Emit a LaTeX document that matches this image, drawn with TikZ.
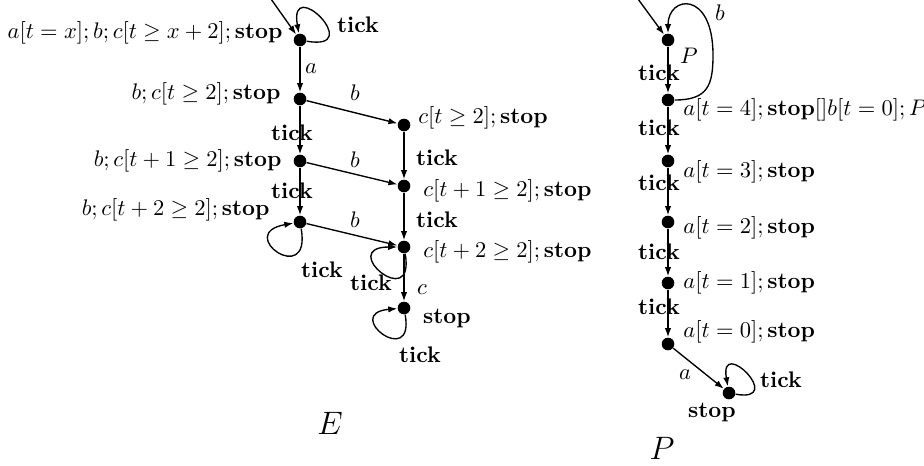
\documentclass[tikz,border=0pt]{standalone}
\usetikzlibrary{arrows.meta}
\begin{document}
\begin{tikzpicture}[x=0.444pt,y=-0.444pt,
  st/.style={circle,fill=black,inner sep=0pt,minimum size=5.6pt},
  lbl/.style={inner sep=0pt},
  arr/.style={-{Latex[length=4pt,width=2.8pt]},line width=0.6pt}]
\useasboundingbox (0,0) rectangle (924,465);
% ---------- E ----------
\node[st] (s0) at (300,40) {};
\node[st] (s1) at (300,99) {};
\node[st] (s2) at (404,125) {};
\node[st] (s3) at (300,161) {};
\node[st] (s4) at (404,186) {};
\node[st] (s5) at (300,222) {};
\node[st] (s6) at (404,247) {};
\node[st] (s7) at (404,308) {};
\coordinate (i0) at (271,-1);
\draw[arr] (i0) -- (s0);
\draw[arr] (s0) to[out=-10,in=100,distance=27pt] (s0);
\draw[arr] (s0) -- (s1);
\draw[arr] (s1) -- (s2);
\draw[arr] (s1) -- (s3);
\draw[arr] (s2) -- (s4);
\draw[arr] (s3) -- (s4);
\draw[arr] (s3) -- (s5);
\draw[arr] (s4) -- (s6);
\draw[arr] (s5) -- (s6);
\draw[arr] (s6) -- (s7);
\draw[arr] (s5) to[out=-80,in=190,distance=27pt] (s5);
\draw[arr] (s6) to[out=-80,in=180,distance=27pt] (s6);
\draw[arr] (s7) to[out=-80,in=185,distance=25pt] (s7);
\node[lbl,anchor=east] (l0) at (283,33) {$a[t=x]; b; c[t\geq x+2]; \mathbf{stop}$};
\node[lbl] (t0) at (358,25) {\textbf{tick}};
\node[lbl] (la) at (311,69) {$a$};
\node[lbl,anchor=east] (l1) at (281,94) {$b; c[t\geq 2]; \mathbf{stop}$};
\node[lbl] (b1) at (355,93) {$b$};
\node[lbl,anchor=west] (l2) at (418,118) {$c[t\geq 2]; \mathbf{stop}$};
\node[lbl] (t1) at (292,133) {\textbf{tick}};
\node[lbl] (t2) at (437,158) {\textbf{tick}};
\node[lbl,anchor=east] (l3) at (282,161) {$b; c[t+1\geq 2]; \mathbf{stop}$};
\node[lbl] (b2) at (355,160) {$b$};
\node[lbl,anchor=west] (l4) at (423,191) {$c[t+1\geq 2]; \mathbf{stop}$};
\node[lbl] (t3) at (292,191) {\textbf{tick}};
\node[lbl] (t4) at (437,220) {\textbf{tick}};
\node[lbl,anchor=east] (l5) at (270,210) {$b; c[t+2\geq 2]; \mathbf{stop}$};
\node[lbl] (b3) at (355,220) {$b$};
\node[lbl,anchor=west] (l6) at (423,252) {$c[t+2\geq 2]; \mathbf{stop}$};
\node[lbl] (t5) at (322,270) {\textbf{tick}};
\node[lbl] (t6) at (371,283) {\textbf{tick}};
\node[lbl] (lc) at (422,290) {$c$};
\node[lbl] (l7) at (447,319) {$\mathbf{stop}$};
\node[lbl] (t7) at (420,355) {\textbf{tick}};
\node[lbl] (E) at (330,423) {\Large $E$};
% ---------- P ----------
\node[st] (p0) at (668,40) {};
\node[st] (p1) at (668,100) {};
\node[st] (p2) at (668,161) {};
\node[st] (p3) at (668,222) {};
\node[st] (p4) at (668,283) {};
\node[st] (p5) at (668,344) {};
\node[st] (p6) at (729,393) {};
\coordinate (i1) at (638,-1);
\coordinate (bm) at (713,55);
\draw[arr] (i1) -- (p0);
\draw[arr] (p0) -- (p1);
\draw[arr] (p1) -- (p2);
\draw[arr] (p2) -- (p3);
\draw[arr] (p3) -- (p4);
\draw[arr] (p4) -- (p5);
\draw[arr] (p5) -- (p6);
\draw[arr] (p1) .. controls +(40,0) and +(0,30) .. (bm)
                .. controls +(0,-65) and +(0,-45) .. (p0);
\draw[arr] (p6) to[out=-10,in=100,distance=23pt] (p6);
\node[lbl] (lb) at (720,13) {$b$};
\node[lbl] (lP) at (689,56) {$P$};
\node[lbl] (q0) at (659,73) {\textbf{tick}};
\node[lbl] (q1) at (659,128) {\textbf{tick}};
\node[lbl] (q2) at (659,183) {\textbf{tick}};
\node[lbl] (q3) at (659,252) {\textbf{tick}};
\node[lbl] (q4) at (659,307) {\textbf{tick}};
\node[lbl,anchor=west] (m1) at (683,110) {$a[t=4]; \mathbf{stop}[]b[t=0]; P$};
\node[lbl,anchor=west] (m2) at (683,172) {$a[t=3]; \mathbf{stop}$};
\node[lbl,anchor=west] (m3) at (683,228) {$a[t=2]; \mathbf{stop}$};
\node[lbl,anchor=west] (m4) at (683,283) {$a[t=1]; \mathbf{stop}$};
\node[lbl,anchor=west] (m5) at (683,332) {$a[t=0]; \mathbf{stop}$};
\node[lbl] (la2) at (685,375) {$a$};
\node[lbl] (q5) at (781,380) {\textbf{tick}};
\node[lbl] (m6) at (712,413) {$\mathbf{stop}$};
\node[lbl] (P) at (662,448) {\Large $P$};
\end{tikzpicture}
\end{document}
